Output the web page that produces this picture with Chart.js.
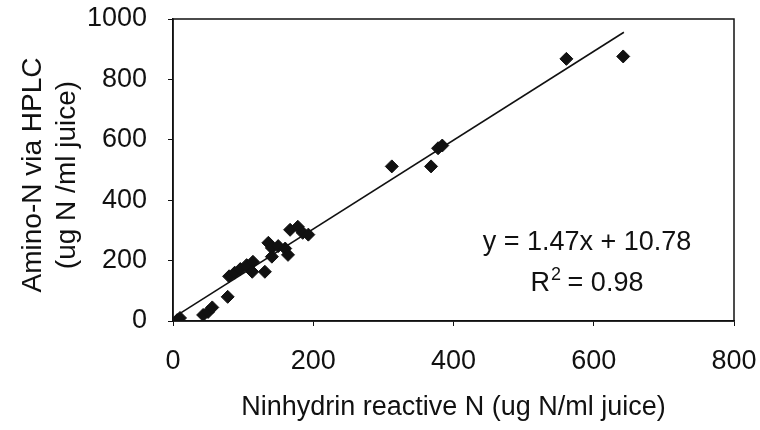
<!DOCTYPE html>
<html>
<head>
<meta charset="utf-8">
<script src="https://cdn.jsdelivr.net/npm/chart.js@4.4.1/dist/chart.umd.min.js"></script>
<style>
  html, body { margin: 0; padding: 0; background: #fff; }
  #wrap { width: 760px; height: 430px; position: relative; }
</style>
</head>
<body>
<div id="wrap"><canvas id="chart" width="760" height="430"></canvas></div>
<script>
// Ninhydrin reactive N (x) vs amino-N via HPLC (y), ug N/ml juice
const ninhydrinN = [6, 10, 43, 50, 56, 78, 80, 88, 96, 105, 114, 113, 131, 136, 141, 141, 150, 160, 164, 167, 178, 185, 193, 312, 368, 378, 384, 561, 642];
const hplcN      = [3, 10, 20, 30, 45, 80, 148, 160, 172, 185, 196, 163, 163, 259, 242, 213, 248, 240, 219, 302, 312, 292, 286, 512, 512, 572, 581, 868, 876];

// trendline ends
const trendX = [5, 643];
const trendY = [18, 956];

const xTicks = [0, 200, 400, 600, 800];
const yTicks = [0, 200, 400, 600, 800, 1000];

const eqText = "y = 1.47x + 10.78";
const r2Value = "0.98";
const xTitle = "Ninhydrin reactive N (ug N/ml juice)";
const yTitle = ["Amino-N via HPLC", "(ug N /ml juice)"];

const FONT = "'Liberation Sans', Arial, sans-serif";
const FS = 27;
const INK = "#111";

const points = ninhydrinN.map((x, i) => ({ x, y: hplcN[i] }));
const trend = trendX.map((x, i) => ({ x, y: trendY[i] }));

// frame + titles + equation
const decor = {
  id: "decor",
  afterDraw(chart) {
    const { ctx, chartArea: a } = chart;
    ctx.save();
    ctx.strokeStyle = INK;
    ctx.lineWidth = 1.5;
    ctx.strokeRect(a.left, a.top, a.right - a.left, a.bottom - a.top);

    ctx.fillStyle = INK;
    ctx.font = FS + "px " + FONT;
    ctx.textAlign = "center";
    ctx.textBaseline = "middle";
    ctx.fillText(xTitle, (a.left + a.right) / 2, 408);

    ctx.save();
    ctx.font = "28px " + FONT;
    ctx.translate(33, 175);
    ctx.rotate(-Math.PI / 2);
    ctx.fillText(yTitle[0], 0, 0);
    ctx.fillText(yTitle[1], 0, 34);
    ctx.restore();

    ctx.fillText(eqText, 587, 243);
    // R² with raised 2
    const lead = "R", tail = " = " + r2Value;
    const wR = ctx.measureText(lead).width;
    ctx.font = "18px " + FONT;
    const w2 = ctx.measureText("2").width;
    ctx.font = FS + "px " + FONT;
    const wT = ctx.measureText(tail).width;
    const x0 = 587 - (wR + w2 + wT) / 2;
    ctx.textAlign = "left";
    ctx.fillText(lead, x0, 284);
    ctx.font = "18px " + FONT;
    ctx.fillText("2", x0 + wR + 1, 275);
    ctx.font = FS + "px " + FONT;
    ctx.fillText(tail, x0 + wR + w2, 284);
    ctx.restore();
  }
};

new Chart(document.getElementById("chart"), {
  type: "scatter",
  data: {
    datasets: [
      {
        label: "Samples",
        data: points,
        pointStyle: "rectRot",
        pointRadius: 6.5,
        pointBackgroundColor: INK,
        pointBorderColor: INK,
        pointBorderWidth: 1,
        showLine: false
      },
      {
        label: "Linear fit",
        data: trend,
        showLine: true,
        borderColor: INK,
        borderWidth: 1.6,
        pointRadius: 0,
        fill: false
      }
    ]
  },
  options: {
    responsive: false,
    animation: false,
    layout: { padding: { top: 19, right: 26, left: 0, bottom: 0 } },
    plugins: { legend: { display: false }, tooltip: { enabled: false } },
    scales: {
      x: {
        type: "linear",
        min: 0, max: 800,
        afterBuildTicks: s => { s.ticks = xTicks.map(v => ({ value: v })); },
        afterFit: s => { s.height = 109; s.paddingLeft = 0; s.paddingRight = 0; },
        grid: { drawOnChartArea: false, drawTicks: true, tickLength: 5, color: INK },
        border: { color: INK, width: 1.5 },
        ticks: {
          color: INK, font: { family: FONT, size: FS }, padding: 19, maxRotation: 0,
          callback: v => String(v)
        }
      },
      y: {
        type: "linear",
        min: 0, max: 1000,
        afterBuildTicks: s => { s.ticks = yTicks.map(v => ({ value: v })); },
        afterFit: s => { s.width = 173; s.paddingTop = 0; s.paddingBottom = 0; },
        grid: { drawOnChartArea: false, drawTicks: true, tickLength: 5, color: INK },
        border: { color: INK, width: 1.5 },
        ticks: {
          color: INK, font: { family: FONT, size: FS }, padding: 21,
          callback: v => String(v)
        }
      }
    }
  },
  plugins: [decor]
});
</script>
</body>
</html>
